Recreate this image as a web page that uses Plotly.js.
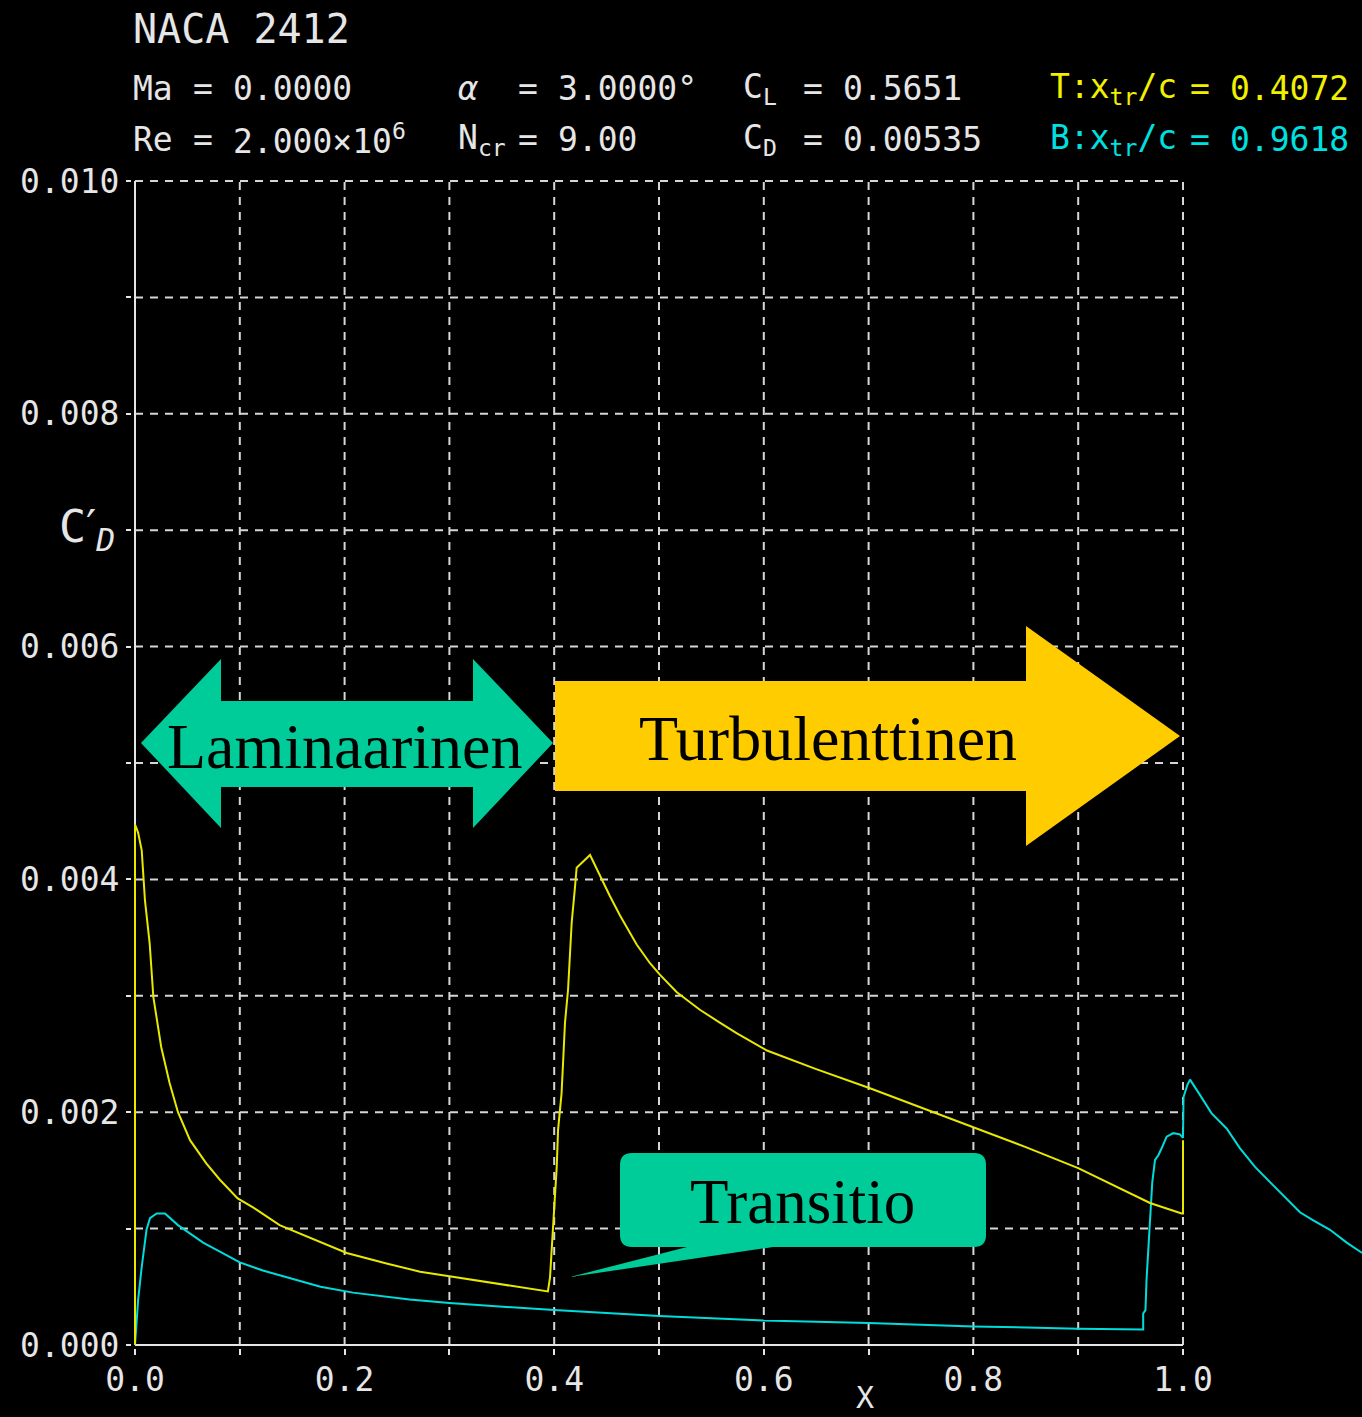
<!DOCTYPE html>
<html>
<head>
<meta charset="utf-8">
<script src="https://cdn.plot.ly/plotly-3.0.1.min.js"></script>
<style>
  html, body { margin: 0; padding: 0; background: #000; }
  #chart { width: 1362px; height: 1417px; }
</style>
</head>
<body>
<div id="chart"></div>
<script>
// Skin-friction drag C'_D along the chord of a NACA 2412 (XFOIL viscous run)

// Top surface (yellow)
const topX = [0, 0.0, 0.001, 0.003, 0.0064, 0.0095, 0.014, 0.0175, 0.025, 0.033, 0.041, 0.0525,
  0.068, 0.081, 0.098, 0.113, 0.138, 0.164, 0.202, 0.24, 0.272, 0.3, 0.35, 0.394,
  0.396, 0.399, 0.4008, 0.4024, 0.4037, 0.407, 0.4087, 0.4103, 0.4132, 0.415, 0.4167, 0.4198, 0.4214,
  0.4342, 0.4437, 0.453, 0.4628, 0.472, 0.4787, 0.4914, 0.501, 0.517, 0.539, 0.558, 0.574, 0.603,
  0.65, 0.7, 0.75, 0.8, 0.85, 0.9, 0.921, 0.9685, 0.9987, 1.0, 1.0];
const topCd = [0, 0.00447, 0.00445, 0.0044, 0.00425, 0.00382, 0.00345, 0.00299, 0.00256, 0.00225, 0.0020, 0.00176,
  0.00156, 0.00142, 0.00126, 0.00118, 0.00103, 0.00093, 0.00079, 0.0007, 0.00063, 0.00059, 0.00052, 0.00046,
  0.00058, 0.00099, 0.00127, 0.00153, 0.00185, 0.00216, 0.00247, 0.00277, 0.00305, 0.00333, 0.00363, 0.00393, 0.0041,
  0.00421, 0.00403, 0.00386, 0.00369, 0.00354, 0.00344, 0.00328, 0.00318, 0.00303, 0.00288, 0.00277, 0.00268, 0.00253,
  0.00237, 0.00221, 0.00204, 0.00187, 0.0017, 0.00152, 0.00143, 0.00122, 0.00113, 0.00113, 0.00176];

// Bottom surface and wake (cyan)
const botX = [0, 0.003, 0.0064, 0.0086, 0.011, 0.0143, 0.0207, 0.0286, 0.041, 0.065, 0.081, 0.1,
  0.122, 0.145, 0.177, 0.208, 0.262, 0.3, 0.35, 0.4, 0.5, 0.6, 0.7, 0.8, 0.9, 0.962,
  0.962, 0.9642, 0.9652, 0.9668, 0.9685, 0.9707, 0.9733, 0.9765, 0.9796, 0.9844, 0.9908, 0.997, 1.0,
  1.0005, 1.004, 1.0067, 1.0146, 1.0226, 1.0273, 1.0416, 1.0544, 1.0687, 1.0862, 1.0989, 1.1116,
  1.1243, 1.1403, 1.1562, 1.171];
const botCd = [0, 0.00039, 0.00067, 0.00082, 0.00099, 0.00109, 0.00113, 0.00113, 0.00103, 0.00088, 0.0008, 0.00071,
  0.00064, 0.00058, 0.0005, 0.00045, 0.00039, 0.00036, 0.00033, 0.0003, 0.00025, 0.00021, 0.00019, 0.00016, 0.00014, 0.000134,
  0.00027, 0.0003, 0.00056, 0.00083, 0.00113, 0.0014, 0.00159, 0.00163, 0.00169, 0.00179, 0.00182, 0.00181, 0.00178,
  0.00213, 0.00223, 0.00228, 0.00217, 0.00206, 0.00199, 0.00186, 0.00169, 0.00153, 0.00137, 0.00125, 0.00114,
  0.00107, 0.00099, 0.00088, 0.00079];

const xTickVals = [0, 0.2, 0.4, 0.6, 0.8, 1.0];
const xTickText = ['0.0', '0.2', '0.4', '0.6', '0.8', '1.0'];
const yTickVals = [0, 0.002, 0.004, 0.006, 0.008, 0.010];
const yTickText = ['0.000', '0.002', '0.004', '0.006', '0.008', '0.010'];
const xGrid = [0.1, 0.2, 0.3, 0.4, 0.5, 0.6, 0.7, 0.8, 0.9, 1.0];
const yGrid = [0.001, 0.002, 0.003, 0.004, 0.005, 0.006, 0.007, 0.008, 0.009, 0.010];

// Page geometry
const W = 1362, H = 1417;
const ML = 132, MR = 0, MT = 178, MB = 69;
const PW = W - ML - MR, PH = H - MT - MB;
const PX_PER_X = 1048, PX_PER_Y = 116400, PAD = 3;
const xRange = [-PAD / PX_PER_X, -PAD / PX_PER_X + PW / PX_PER_X];
const yRange = [-PAD / PX_PER_Y, -PAD / PX_PER_Y + PH / PX_PER_Y];

const px = v => (v - ML) / PW;          // page pixel -> paper x
const py = v => (H - MB - v) / PH;      // page pixel -> paper y
const pathOf = pts => 'M ' + pts.map(p => px(p[0]) + ',' + py(p[1])).join(' L ') + ' Z';

const MONO = 'DejaVu Sans Mono, Liberation Mono, monospace';
const SERIF = 'Liberation Serif, Times New Roman, serif';
const WHITE = '#e6e6e6', GRID = '#d6d6d6';
const YEL = '#e8e800', CYAN = '#00dcdc';

const shapes = [];
yGrid.forEach(v => shapes.push({type: 'line', xref: 'x', yref: 'y', x0: 0, x1: 1, y0: v, y1: v,
  line: {color: GRID, width: 2, dash: '8px,7px'}, layer: 'below'}));
xGrid.forEach(v => shapes.push({type: 'line', xref: 'x', yref: 'y', x0: v, x1: v, y0: 0, y1: 0.010,
  line: {color: GRID, width: 2, dash: '8px,7px'}, layer: 'below'}));
// axis lines
shapes.push({type: 'line', xref: 'x', yref: 'y', x0: 0, x1: 0, y0: 0, y1: 0.010, line: {color: WHITE, width: 2}, layer: 'below'});
shapes.push({type: 'line', xref: 'x', yref: 'y', x0: 0, x1: 1, y0: 0, y1: 0, line: {color: WHITE, width: 2}, layer: 'below'});

// Region arrows and callout
const GREEN = '#00cc99', GOLD = '#ffcc00';
shapes.push({type: 'path', xref: 'paper', yref: 'paper', fillcolor: GREEN, line: {width: 0}, layer: 'above',
  path: pathOf([[141, 743], [221, 659], [221, 701], [473, 701], [473, 659], [553, 743], [473, 828], [473, 787], [221, 787], [221, 828]])});
shapes.push({type: 'path', xref: 'paper', yref: 'paper', fillcolor: GOLD, line: {width: 0}, layer: 'above',
  path: pathOf([[555, 681], [1026, 681], [1026, 626], [1180, 736], [1026, 846], [1026, 791], [555, 791]])});
(function () {
  const L = 620, R = 986, T = 1153, B = 1247, r = 12;
  const P = (a, b) => px(a) + ',' + py(b);
  const d = 'M ' + P(L + r, T) + ' L ' + P(R - r, T) + ' Q ' + P(R, T) + ' ' + P(R, T + r) +
    ' L ' + P(R, B - r) + ' Q ' + P(R, B) + ' ' + P(R - r, B) +
    ' L ' + P(773, B) + ' L ' + P(570, 1277) + ' L ' + P(687, B) +
    ' L ' + P(L + r, B) + ' Q ' + P(L, B) + ' ' + P(L, B - r) +
    ' L ' + P(L, T + r) + ' Q ' + P(L, T) + ' ' + P(L + r, T) + ' Z';
  shapes.push({type: 'path', xref: 'paper', yref: 'paper', fillcolor: GREEN, line: {width: 0}, layer: 'above', path: d});
})();

const ann = [];
function txt(text, x, y, size, color, family, xanchor, yanchor) {
  ann.push({text: text, xref: 'paper', yref: 'paper', x: px(x), y: py(y), xanchor: xanchor || 'left', yanchor: yanchor || 'middle',
    showarrow: false, font: {family: family || MONO, size: size, color: color || WHITE}});
}
// Run header
txt('NACA 2412', 131, 29, 40);
txt('Ma', 131, 88.5, 33); txt('=', 191, 88.5, 33); txt('0.0000', 231, 88.5, 33);
txt('<i>α</i>', 456, 88.5, 33); txt('=', 516, 88.5, 33); txt('3.0000°', 556, 88.5, 33);
txt('C<sub>L</sub>', 741, 88.5, 33); txt('=', 801, 88.5, 33); txt('0.5651', 841, 88.5, 33);
txt('T:x<sub>tr</sub>/c', 1048, 88.5, 33, '#f0f000'); txt('=', 1188, 88.5, 33, '#f0f000'); txt('0.4072', 1228, 88.5, 33, '#f0f000');
txt('Re', 131, 140, 33); txt('=', 191, 140, 33); txt('2.000×10<sup>6</sup>', 231, 140, 33);
txt('N<sub>cr</sub>', 456, 140, 33); txt('=', 516, 140, 33); txt('9.00', 556, 140, 33);
txt('C<sub>D</sub>', 741, 140, 33); txt('=', 801, 140, 33); txt('0.00535', 841, 140, 33);
txt('B:x<sub>tr</sub>/c', 1048, 140, 33, '#00e0e0'); txt('=', 1188, 140, 33, '#00e0e0'); txt('0.9618', 1228, 140, 33, '#00e0e0');
// Axis titles
txt('C<span style="font-family:DejaVu Sans">′</span><sub><i>D</i></sub>', 57, 498, 45, WHITE, MONO, 'left', 'top');
txt('X', 865, 1417, 30, WHITE, MONO, 'center', 'bottom');
// Region labels
txt('Laminaarinen', 344, 746, 64, '#000', SERIF, 'center');
txt('Turbulenttinen', 828, 738, 64, '#000', SERIF, 'center');
txt('Transitio', 802, 1202, 63, '#000', SERIF, 'center');

const traces = [
  {x: botX, y: botCd, type: 'scatter', mode: 'lines', name: 'Bottom', line: {color: CYAN, width: 2}, hoverinfo: 'skip'},
  {x: topX, y: topCd, type: 'scatter', mode: 'lines', name: 'Top', line: {color: YEL, width: 2}, hoverinfo: 'skip'}
];

const layout = {
  width: W, height: H,
  margin: {l: ML, r: MR, t: MT, b: MB, pad: 0},
  paper_bgcolor: '#000', plot_bgcolor: '#000',
  showlegend: false,
  xaxis: {
    range: xRange, autorange: false, showgrid: false, zeroline: false, showline: false,
    tickmode: 'array', tickvals: xTickVals, ticktext: xTickText,
    ticks: 'outside', ticklen: 6, tickwidth: 2, tickcolor: WHITE,
    minor: {tickvals: xGrid, ticks: 'outside', ticklen: 6, tickwidth: 2, tickcolor: WHITE, showgrid: false},
    tickfont: {family: MONO, size: 33, color: WHITE}, ticklabelstandoff: -4, automargin: false
  },
  yaxis: {
    range: yRange, autorange: false, showgrid: false, zeroline: false, showline: false,
    tickmode: 'array', tickvals: yTickVals, ticktext: yTickText,
    ticks: 'outside', ticklen: 5, tickwidth: 2, tickcolor: WHITE,
    minor: {tickvals: yGrid, ticks: 'outside', ticklen: 5, tickwidth: 2, tickcolor: WHITE, showgrid: false},
    tickfont: {family: MONO, size: 33, color: WHITE}, ticklabelstandoff: 0, automargin: false
  },
  shapes: shapes,
  annotations: ann
};

Plotly.newPlot('chart', traces, layout, {staticPlot: true, displayModeBar: false});
</script>
</body>
</html>
